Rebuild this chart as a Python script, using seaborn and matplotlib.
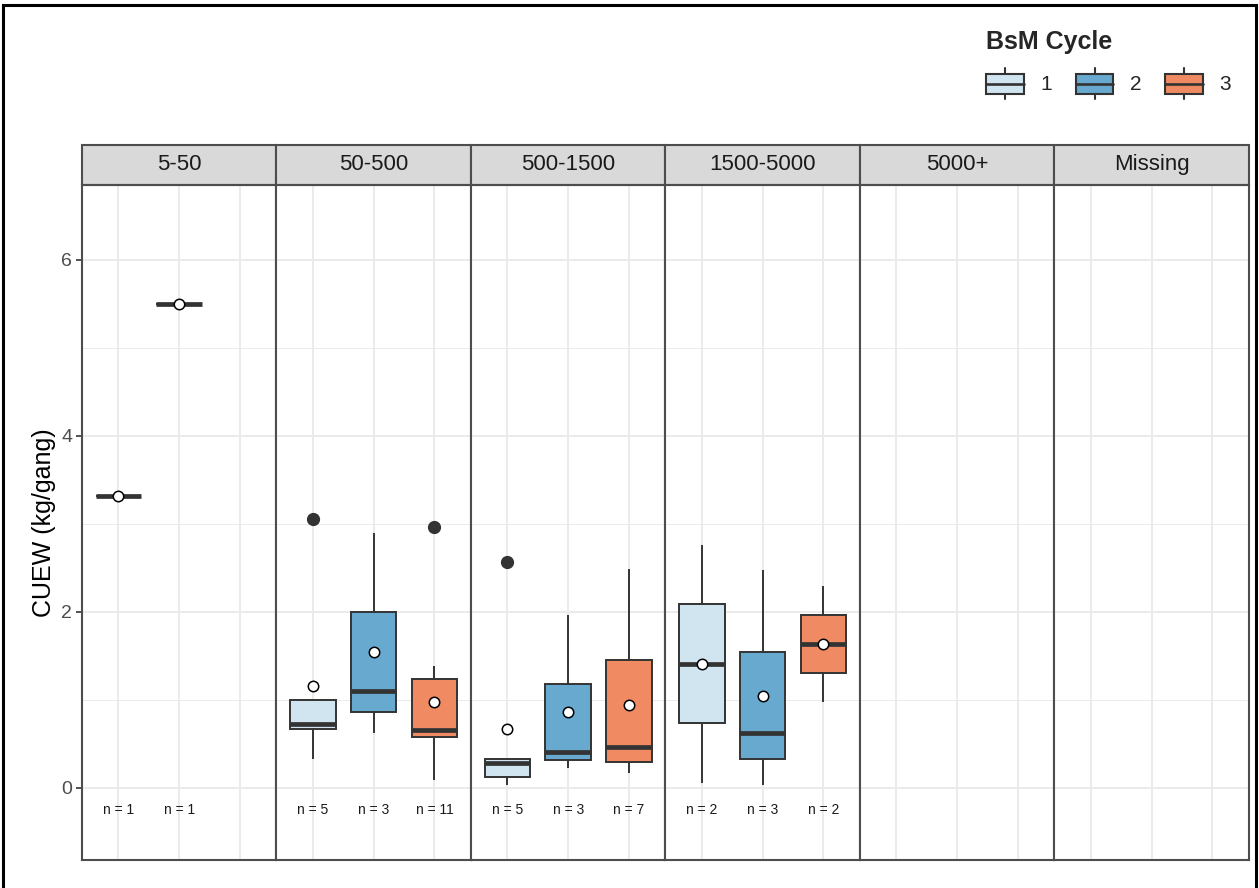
import numpy as np
import pandas as pd
import seaborn as sns
import matplotlib.pyplot as plt
from matplotlib.patches import Rectangle, Patch
from matplotlib.lines import Line2D
from matplotlib.legend_handler import HandlerBase

# facets and groups
size_classes = ["5-50", "50-500", "500-1500", "1500-5000", "5000+", "Missing"]
cycles = ["1", "2", "3"]
cycle_colors = ["#D1E5F0", "#67A9CF", "#EF8A62"]

cuew_5_50 = {"1": [3.32], "2": [5.50]}
cuew_50_500 = {"1": [0.33, 0.67, 0.72, 1.00, 3.06],
               "2": [0.62, 1.10, 2.90],
               "3": [0.09, 0.40, 0.55, 0.61, 0.63, 0.66, 0.91, 1.15, 1.33, 1.38, 2.96]}
cuew_500_1500 = {"1": [0.03, 0.12, 0.28, 0.33, 2.57],
                 "2": [0.22, 0.41, 1.96],
                 "3": [0.17, 0.25, 0.33, 0.46, 1.30, 1.61, 2.49]}
cuew_1500_5000 = {"1": [0.06, 2.76],
                  "2": [0.03, 0.62, 2.47],
                  "3": [0.97, 2.29]}
cuew_5000_plus = {}
cuew_missing = {}
facet_values = [cuew_5_50, cuew_50_500, cuew_500_1500, cuew_1500_5000, cuew_5000_plus, cuew_missing]

rows = []
for size, groups in zip(size_classes, facet_values):
    for cyc, vals in groups.items():
        rows += [(size, cyc, v) for v in vals]
df = pd.DataFrame(rows, columns=["size_class", "cycle", "cuew"])


class BoxKey(HandlerBase):
    # legend key drawn like a small boxplot
    def create_artists(self, legend, orig_handle, xdescent, ydescent, width, height, fontsize, trans):
        x0, y0 = -xdescent, -ydescent
        box = Rectangle((x0, y0 + 0.17 * height), width, 0.66 * height, facecolor=orig_handle.get_facecolor(),
                        edgecolor="#333333", lw=1.5, transform=trans)
        mid = Line2D([x0, x0 + width], [y0 + height / 2] * 2, color="#333333", lw=1.9, transform=trans)
        top = Line2D([x0 + width / 2] * 2, [y0 + 0.83 * height, y0 + height], color="#333333", lw=1.5,
                     transform=trans)
        bot = Line2D([x0 + width / 2] * 2, [y0, y0 + 0.17 * height], color="#333333", lw=1.5, transform=trans)
        return [box, mid, top, bot]


sns.set_style("white")
plt.rcParams["font.family"] = ["Liberation Sans", "DejaVu Sans"]

fig, axes = plt.subplots(1, 6, figsize=(12.59, 8.88), dpi=100, sharey=True)
fig.subplots_adjust(left=0.0651, right=0.992, top=0.7917, bottom=0.0315, wspace=0)
palette = dict(zip(cycles, cycle_colors))
strip_h = 40 / 675

for ax, size in zip(axes, size_classes):
    sub = df[df.size_class == size]
    if len(sub):
        sns.boxplot(data=sub, x="cycle", y="cuew", hue="cycle", order=cycles, hue_order=cycles,
                    palette=palette, saturation=1, width=0.75, linecolor="#333333", linewidth=1.4,
                    showcaps=False, fliersize=8.5, legend=False, ax=ax,
                    flierprops={"marker": "o", "markerfacecolor": "#333333", "markeredgecolor": "#333333"},
                    medianprops={"linewidth": 3.4, "color": "#333333"},
                    showmeans=True,
                    meanprops={"marker": "o", "markerfacecolor": "white", "markeredgecolor": "black",
                               "markersize": 7.5, "markeredgewidth": 1.1})
        counts = sub.groupby("cycle").size()
        for i, cyc in enumerate(cycles):
            if cyc in counts.index:
                ax.text(i, -0.25, "n = %d" % counts[cyc], ha="center", va="center", fontsize=10,
                        color="#1A1A1A")
    ax.set_xlim(-0.6, 2.6)
    ax.set_ylim(-0.82, 6.85)
    ax.set_xticks([0, 1, 2])
    ax.set_yticks([0, 2, 4, 6])
    ax.set_yticks([1, 3, 5], minor=True)
    ax.set_axisbelow(True)
    ax.grid(True, which="major", color="#EBEBEB", lw=1.4)
    ax.grid(True, which="minor", axis="y", color="#EBEBEB", lw=0.7)
    ax.tick_params(axis="x", bottom=False, labelbottom=False)
    ax.tick_params(axis="y", which="both", left=False)
    ax.set(xlabel="", ylabel="")
    for sp in ax.spines.values():
        sp.set_visible(True)
        sp.set_color("#4D4D4D")
        sp.set_linewidth(1.5)
    # facet strip
    ax.add_patch(Rectangle((0, 1), 1, strip_h, transform=ax.transAxes, clip_on=False,
                           facecolor="#D9D9D9", edgecolor="#4D4D4D", lw=1.5))
    ax.text(0.5, 1 + strip_h / 2, size, transform=ax.transAxes, ha="center", va="center",
            fontsize=16, color="#1A1A1A")

axes[0].tick_params(axis="y", which="major", left=True, length=4, width=1.2, color="#333333",
                    labelsize=14, labelcolor="#4D4D4D", pad=3)
axes[0].set_ylabel("CUEW (kg/gang)", fontsize=18, color="black", labelpad=4)

handles = [Patch(facecolor=c) for c in cycle_colors]
fig.legend(handles, cycles, title="BsM Cycle", ncol=3, loc="upper right",
           bbox_to_anchor=(1250 / 1259, 1 - 11 / 888), frameon=False, handler_map={Patch: BoxKey()},
           handlelength=1.8, handleheight=1.9, fontsize=15, columnspacing=1.15, handletextpad=0.8,
           labelspacing=0.7, title_fontproperties={"weight": "bold", "size": 18}, alignment="left")

# outer frame of the picture
fig.add_artist(Rectangle((3 / 1259, -0.05), (1256 - 3) / 1259, 1.05 - 5 / 888, transform=fig.transFigure,
                         fill=False, edgecolor="black", lw=2.2))

fig.savefig("out.png", dpi=100)
